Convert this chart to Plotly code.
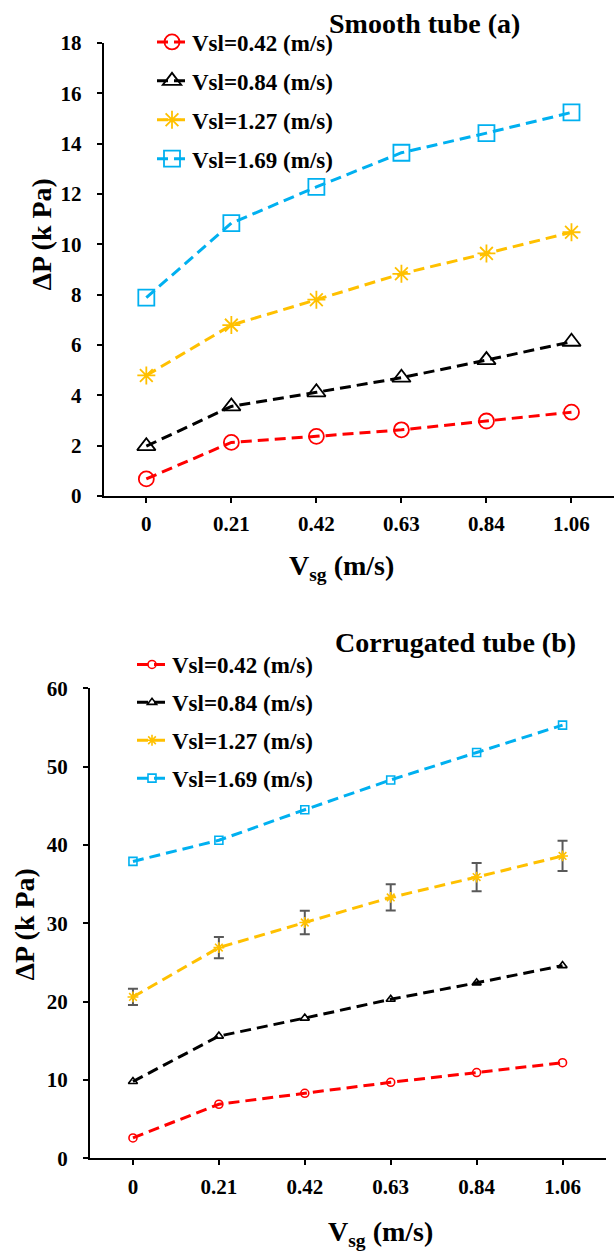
import plotly.graph_objects as go

# ---------------- data ----------------
vsg_labels = ["0", "0.21", "0.42", "0.63", "0.84", "1.06"]
series_names = ["Vsl=0.42 (m/s)", "Vsl=0.84 (m/s)", "Vsl=1.27 (m/s)", "Vsl=1.69 (m/s)"]

# Smooth tube (a), ΔP in kPa
smooth_042 = [0.68, 2.13, 2.37, 2.63, 2.98, 3.33]
smooth_084 = [1.98, 3.56, 4.12, 4.70, 5.40, 6.13]
smooth_127 = [4.79, 6.79, 7.80, 8.83, 9.64, 10.48]
smooth_169 = [7.88, 10.84, 12.28, 13.64, 14.42, 15.24]

# Corrugated tube (b), ΔP in kPa
corr_042 = [2.6, 6.9, 8.3, 9.7, 10.95, 12.2]
corr_084 = [9.8, 15.6, 17.9, 20.3, 22.4, 24.6]
corr_127 = [20.6, 26.9, 30.1, 33.3, 35.9, 38.6]
corr_169 = [37.9, 40.6, 44.5, 48.3, 51.8, 55.3]
corr_127_err = [1.03, 1.35, 1.5, 1.67, 1.8, 1.93]

colors = ["#FF0000", "#000000", "#FFC000", "#00B0F0"]
FONT = "Liberation Serif"

W, H = 614, 1253

def px_x(p):
    return p / W

def px_y(p):
    return 1 - p / H

fig = go.Figure()

top_sets = [smooth_042, smooth_084, smooth_127, smooth_169]
top_symbols = ["circle-open", "triangle-up-open", "asterisk-open", "square-open"]
top_sizes = [15, 16, 15, 16]
for i, (vals, name) in enumerate(zip(top_sets, series_names)):
    fig.add_trace(go.Scatter(
        x=vsg_labels, y=vals, name=name, mode="lines+markers",
        line=dict(color=colors[i], width=3, dash="11px,6px"),
        marker=dict(symbol=top_symbols[i], size=top_sizes[i], color=colors[i],
                    line=dict(color=colors[i], width=1.8)),
        xaxis="x", yaxis="y", legend="legend", legendgroup="a%d" % i,
    ))

bot_sets = [corr_042, corr_084, corr_127, corr_169]
bot_symbols = ["circle-open", "triangle-up-open", "asterisk-open", "square-open"]
bot_sizes = [8, 8, 9, 8]
for i, (vals, name) in enumerate(zip(bot_sets, series_names)):
    err = None
    if i == 2:
        err = dict(type="data", array=corr_127_err, visible=True,
                   color="#595959", thickness=2, width=5)
    fig.add_trace(go.Scatter(
        x=vsg_labels, y=vals, name=name, mode="lines+markers",
        line=dict(color=colors[i], width=3, dash="11px,6px"),
        marker=dict(symbol=bot_symbols[i], size=bot_sizes[i], color=colors[i],
                    line=dict(color=colors[i], width=1.6)),
        error_y=err,
        xaxis="x2", yaxis="y2", legend="legend2", legendgroup="b%d" % i,
    ))

tickfont = dict(family=FONT, size=21, color="black", weight="bold")
common_x = dict(type="category", range=[-0.5, 5.5], showline=True, linecolor="black",
                linewidth=2, ticks="outside", ticklen=5, tickwidth=1.5, tickcolor="black",
                showgrid=False, zeroline=False, tickfont=tickfont, ticklabelstandoff=3,
                fixedrange=True, automargin=False)
common_y = dict(showline=True, linecolor="black", linewidth=2, ticks="outside", ticklen=5,
                tickwidth=1.5, tickcolor="black", showgrid=False, zeroline=False,
                tickfont=tickfont, ticklabelstandoff=11, automargin=False)

legend_font = dict(family=FONT, size=23, color="black", weight="bold")

fig.update_layout(
    template="none",
    width=W, height=H, autosize=False,
    margin=dict(l=0, r=0, t=0, b=0, pad=0, autoexpand=False),
    paper_bgcolor="white", plot_bgcolor="white",
    font=dict(family=FONT, color="black"),
    xaxis=dict(common_x, domain=[px_x(103.8), 1.0], anchor="y"),
    yaxis=dict(common_y, domain=[px_y(496), px_y(43)], range=[0, 18], dtick=2, anchor="x"),
    xaxis2=dict(common_x, domain=[px_x(90), px_x(605.5)], anchor="y2"),
    yaxis2=dict(common_y, domain=[px_y(1158.3), px_y(688.3)], range=[0, 60], dtick=10, anchor="x2"),
    legend=dict(x=px_x(152), y=px_y(20.5), xanchor="left", yanchor="top",
                font=legend_font, bgcolor="rgba(0,0,0,0)", tracegroupgap=6,
                traceorder="grouped"),
    legend2=dict(x=px_x(132), y=px_y(643), xanchor="left", yanchor="top",
                 font=legend_font, bgcolor="rgba(0,0,0,0)", tracegroupgap=5,
                 traceorder="grouped"),
    showlegend=True,
)

title_font = dict(family=FONT, size=28, color="black", weight="bold")
fig.add_annotation(text="Smooth tube (a)", x=px_x(424), y=px_y(24), xref="paper", yref="paper",
                   xanchor="center", yanchor="middle", showarrow=False, font=title_font)
fig.add_annotation(text="Corrugated tube (b)", x=px_x(455), y=px_y(642), xref="paper", yref="paper",
                   xanchor="center", yanchor="middle", showarrow=False, font=title_font)
fig.add_annotation(text="V<sub>sg</sub> (m/s)", x=px_x(341), y=px_y(567), xref="paper", yref="paper",
                   xanchor="center", yanchor="middle", showarrow=False, font=title_font)
fig.add_annotation(text="V<sub>sg</sub> (m/s)", x=px_x(380), y=px_y(1233), xref="paper", yref="paper",
                   xanchor="center", yanchor="middle", showarrow=False, font=title_font)
fig.add_annotation(text="ΔP (k Pa)", x=px_x(40.5), y=px_y(235), xref="paper", yref="paper",
                   xanchor="center", yanchor="middle", showarrow=False, textangle=-90, font=title_font)
fig.add_annotation(text="ΔP (k Pa)", x=px_x(23.5), y=px_y(925), xref="paper", yref="paper",
                   xanchor="center", yanchor="middle", showarrow=False, textangle=-90, font=title_font)

fig.write_html("out.html")
